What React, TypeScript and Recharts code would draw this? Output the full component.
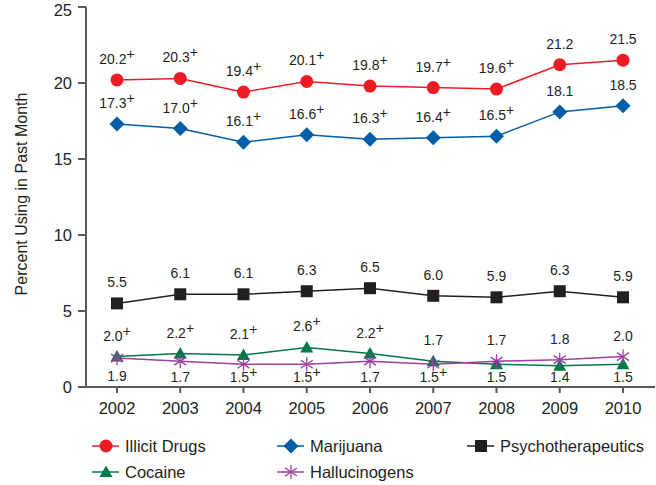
import React from 'react';
import { LineChart, Line, XAxis, YAxis, LabelList } from 'recharts';

const years = ['2002', '2003', '2004', '2005', '2006', '2007', '2008', '2009', '2010'];

const illicit = [20.2, 20.3, 19.4, 20.1, 19.8, 19.7, 19.6, 21.2, 21.5];
const marijuana = [17.3, 17.0, 16.1, 16.6, 16.3, 16.4, 16.5, 18.1, 18.5];
const psycho = [5.5, 6.1, 6.1, 6.3, 6.5, 6.0, 5.9, 6.3, 5.9];
const cocaine = [2.0, 2.2, 2.1, 2.6, 2.2, 1.7, 1.5, 1.4, 1.5];
const halluc = [1.9, 1.7, 1.5, 1.5, 1.7, 1.5, 1.7, 1.8, 2.0];

// "+" = significantly different from 2010
const illicitSig = [1, 1, 1, 1, 1, 1, 1, 0, 0];
const marijuanaSig = [1, 1, 1, 1, 1, 1, 1, 0, 0];
const psychoSig = [0, 0, 0, 0, 0, 0, 0, 0, 0];
const cocaineSig = [1, 1, 1, 1, 1, 0, 0, 0, 0];
const hallucSig = [0, 0, 1, 1, 0, 1, 0, 0, 0];

const yTicks = [0, 5, 10, 15, 20, 25];

const data = years.map((year, i) => ({
  year,
  illicit: illicit[i],
  marijuana: marijuana[i],
  psycho: psycho[i],
  cocaine: cocaine[i],
  halluc: halluc[i],
}));

const FONT = '"Liberation Sans", Arial, Helvetica, sans-serif';
const TEXT = '#231F20';
const AXIS = '#5A5A5A';

const RED = '#ED1C24';
const BLUE = '#005DA8';
const BLACK = '#231F20';
const GREEN = '#00784A';
const PURPLE = '#9B3FA0';

const Circle = ({ cx, cy, color }: any) => <circle cx={cx} cy={cy} r={6.5} fill={color} />;
const Diamond = ({ cx, cy, color }: any) => (
  <path d={`M${cx},${cy - 7.5}L${cx + 7.5},${cy}L${cx},${cy + 7.5}L${cx - 7.5},${cy}Z`} fill={color} />
);
const Square = ({ cx, cy, color }: any) => <rect x={cx - 6} y={cy - 6} width={12} height={12} fill={color} />;
const Triangle = ({ cx, cy, color }: any) => (
  <path d={`M${cx},${cy - 6.5}L${cx + 6.5},${cy + 5}L${cx - 6.5},${cy + 5}Z`} fill={color} />
);
const Star = ({ cx, cy, color }: any) => (
  <g stroke={color} strokeWidth={1.3}>
    <line x1={cx} y1={cy - 7} x2={cx} y2={cy + 7} />
    <line x1={cx - 6} y1={cy - 4} x2={cx + 6} y2={cy + 4} />
    <line x1={cx - 6} y1={cy + 4} x2={cx + 6} y2={cy - 4} />
  </g>
);

const makeDot = (Shape: any, color: string) => (props: any) => (
  <Shape key={`dot-${props.index}`} cx={props.cx} cy={props.cy} color={color} />
);

// labels go above the point, except the lower of cocaine/hallucinogens, which sits under it
const makeLabel = (sig: number[], other?: number[]) => (props: any) => {
  const { x, y, value, index } = props;
  const above = !other || value >= other[index];
  return (
    <text
      key={`lbl-${index}`}
      x={x}
      y={above ? y - 16 : Math.min(y + 23, 382)}
      textAnchor="middle"
      fontSize={14}
      fontFamily={FONT}
      fill={TEXT}
    >
      {Number(value).toFixed(1)}
      {sig[index] ? <tspan dy={-5}>+</tspan> : null}
    </text>
  );
};

const legendItems = [
  { name: 'Illicit Drugs', color: RED, Shape: Circle, x: 92, y: 446 },
  { name: 'Marijuana', color: BLUE, Shape: Diamond, x: 277, y: 446 },
  { name: 'Psychotherapeutics', color: BLACK, Shape: Square, x: 467, y: 446 },
  { name: 'Cocaine', color: GREEN, Shape: Triangle, x: 92, y: 472 },
  { name: 'Hallucinogens', color: PURPLE, Shape: Star, x: 277, y: 472 },
];

const YLabel = () => (
  <text
    transform="translate(27,194) rotate(-90)"
    textAnchor="middle"
    fontSize={16}
    fontFamily={FONT}
    fill={TEXT}
  >
    Percent Using in Past Month
  </text>
);

export default function App() {
  return (
    <div style={{ position: 'absolute', left: 0, top: 0, width: 656, height: 485, background: '#fff' }}>
      <LineChart width={656} height={485} data={data} margin={{ top: 7, right: 1, bottom: 68, left: 0 }}>
        <XAxis
          dataKey="year"
          padding={{ left: 31, right: 32 }}
          tickSize={6}
          tickMargin={9}
          axisLine={{ stroke: AXIS, strokeWidth: 2 }}
          tickLine={{ stroke: AXIS, strokeWidth: 2 }}
          tick={{ fill: TEXT, fontSize: 16.5, fontFamily: FONT }}
          height={30}
          interval={0}
        />
        <YAxis
          domain={[0, 25]}
          ticks={yTicks}
          width={86}
          tickSize={8}
          tickMargin={6}
          axisLine={{ stroke: AXIS, strokeWidth: 2 }}
          tickLine={{ stroke: AXIS, strokeWidth: 2 }}
          tick={{ fill: TEXT, fontSize: 16.5, fontFamily: FONT }}
          label={<YLabel />}
        />
        <Line dataKey="illicit" stroke={RED} strokeWidth={1.5} dot={makeDot(Circle, RED)} isAnimationActive={false}>
          <LabelList dataKey="illicit" content={makeLabel(illicitSig)} />
        </Line>
        <Line dataKey="marijuana" stroke={BLUE} strokeWidth={1.5} dot={makeDot(Diamond, BLUE)} isAnimationActive={false}>
          <LabelList dataKey="marijuana" content={makeLabel(marijuanaSig)} />
        </Line>
        <Line dataKey="psycho" stroke={BLACK} strokeWidth={1.5} dot={makeDot(Square, BLACK)} isAnimationActive={false}>
          <LabelList dataKey="psycho" content={makeLabel(psychoSig)} />
        </Line>
        <Line dataKey="cocaine" stroke={GREEN} strokeWidth={1.5} dot={makeDot(Triangle, GREEN)} isAnimationActive={false}>
          <LabelList dataKey="cocaine" content={makeLabel(cocaineSig, halluc)} />
        </Line>
        <Line dataKey="halluc" stroke={PURPLE} strokeWidth={1.5} dot={makeDot(Star, PURPLE)} isAnimationActive={false}>
          <LabelList dataKey="halluc" content={makeLabel(hallucSig, cocaine)} />
        </Line>
      </LineChart>
      <svg width={656} height={485} style={{ position: 'absolute', left: 0, top: 0, pointerEvents: 'none' }}>
        {legendItems.map((it) => (
          <g key={it.name}>
            <line x1={it.x} y1={it.y} x2={it.x + 27} y2={it.y} stroke={it.color} strokeWidth={1.5} />
            <it.Shape cx={it.x + 14} cy={it.y} color={it.color} />
            <text x={it.x + 33} y={it.y + 6} fontSize={16.5} fontFamily={FONT} fill={TEXT}>
              {it.name}
            </text>
          </g>
        ))}
      </svg>
    </div>
  );
}
